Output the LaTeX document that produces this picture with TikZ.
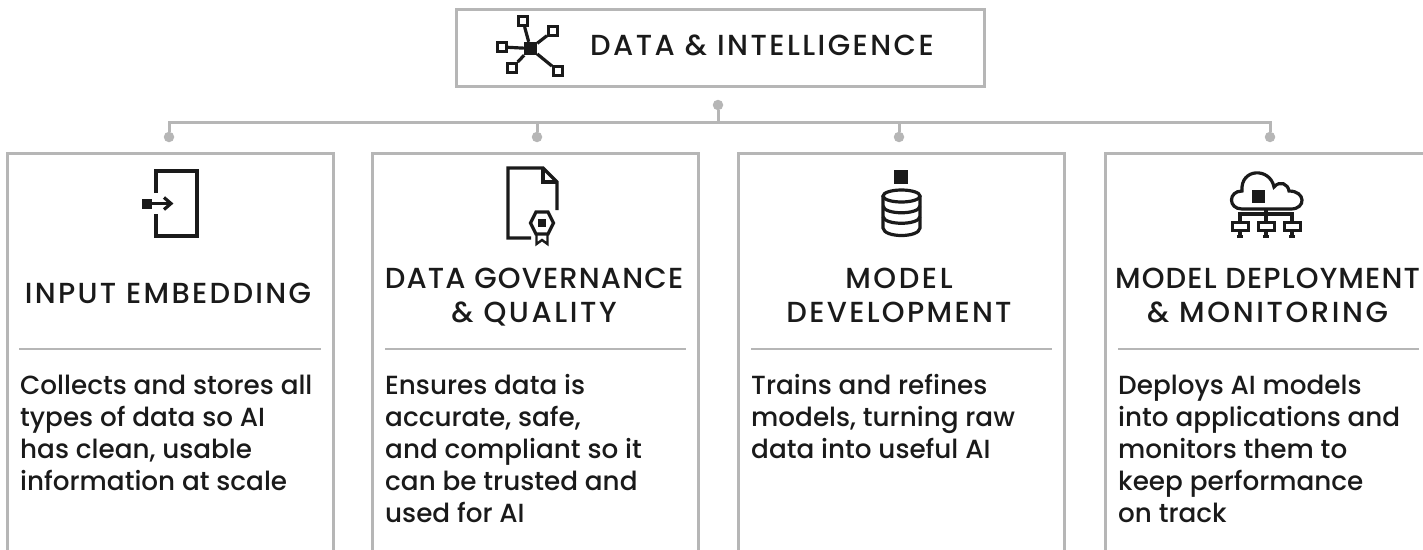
\documentclass[tikz,border=0pt]{standalone}
\usepackage{fontspec}
\setmainfont{Poppins Medium}
\newfontfamily\headfont[LetterSpace=9]{Poppins Medium}
\newfontfamily\headmidfont[LetterSpace=8]{Poppins Medium}
\newfontfamily\headtightfont[LetterSpace=4]{Poppins Medium}
\newfontfamily\titlefont[LetterSpace=8.5]{Poppins Medium}
\definecolor{framegray}{HTML}{B6B6B6}
\definecolor{inkblack}{HTML}{1A1A1A}
\tikzset{
	framebox/.style={draw=framegray, line width=3pt},
	busline/.style={draw=framegray, line width=3pt},
	busdot/.style={circle, fill=framegray, inner sep=0pt, minimum size=10.5pt},
	rule/.style={draw=framegray, line width=2.2pt},
	icon/.style={draw=inkblack, line width=3.2pt},
	iconfill/.style={rectangle, fill=inkblack, inner sep=0pt},
	leafbox/.style={rectangle, draw=inkblack, line width=3pt, fill=white, inner sep=0pt, minimum size=9pt},
	headtext/.style={text=inkblack, align=center, font=\fontsize{29}{34}\selectfont\headfont},
	bodytext/.style={text=inkblack, align=left, anchor=north west, inner sep=0pt, font=\fontsize{26.25}{32}\selectfont},
}
\begin{document}
\begin{tikzpicture}[x=1pt, y=-1pt]
	\useasboundingbox (0, 0) rectangle (1423, 549);
	\clip (0, 0) rectangle (1423, 549);

	%%%%% title box %%%%%
	\node[framebox, minimum width=528pt, minimum height=77pt, inner sep=0pt] (titlebox) at (720, 47.5) {};
	\node[anchor=west, inner sep=0pt, text=inkblack, font=\fontsize{29}{32}\selectfont\titlefont] (titletext) at (590, 45) {DATA \& INTELLIGENCE};

	\node[iconfill, minimum size=13pt] (hub) at (530.5, 48.5) {};
	\node[leafbox] (leaftop) at (523, 21) {};
	\node[leafbox] (leafright) at (553, 31) {};
	\node[leafbox] (leafleft) at (502, 47) {};
	\node[leafbox] (leaflow) at (512, 68) {};
	\node[leafbox] (leafend) at (558, 71) {};
	\draw[icon] (hub) -- (leaftop);
	\draw[icon] (hub) -- (leafright);
	\draw[icon] (hub) -- (leafleft);
	\draw[icon] (hub) -- (leaflow);
	\draw[icon] (hub) -- (leafend);

	%%%%% connectors %%%%%
	\coordinate (bus) at (718, 122);
	\node[busdot] (hubdot) at (718, 105) {};
	\node[busdot] (inputdot) at (169, 137) {};
	\node[busdot] (governdot) at (537, 137) {};
	\node[busdot] (modeldot) at (899, 137) {};
	\node[busdot] (deploydot) at (1270, 137) {};
	\draw[busline] (hubdot) -- (bus);
	\draw[busline] (inputdot) |- (bus);
	\draw[busline] (governdot) |- (bus);
	\draw[busline] (modeldot) |- (bus);
	\draw[busline] (deploydot) |- (bus);

	%%%%% cards %%%%%
	\draw[framebox] (7.5, 552) -- (7.5, 153) -- (333, 153) -- (333, 552);
	\draw[framebox] (372.5, 552) -- (372.5, 153) -- (698, 153) -- (698, 552);
	\draw[framebox] (738.5, 552) -- (738.5, 153) -- (1064, 153) -- (1064, 552);
	\draw[framebox] (1105.5, 552) -- (1105.5, 153) -- (1426, 153);

	%%%%% input embedding %%%%%
	\draw[icon] (156, 193) -- (156, 171) -- (197, 171) -- (197, 236) -- (156, 236) -- (156, 214);
	\node[iconfill, minimum size=10pt] (inputsq) at (147, 203.5) {};
	\draw[icon] (inputsq) -- (171, 203.5);
	\draw[icon] (164, 197.5) -- (171, 203.5) -- (164, 209.5);
	\node[headtext] (inputhead) at (168, 293) {\headmidfont INPUT EMBEDDING};
	\draw[rule] (19, 349) -- (321, 349);
	\node[bodytext] (inputbody) at (20, 375) {Collects and stores all\\types of data so AI\\has clean, usable\\information at scale};

	%%%%% governance %%%%%
	\draw[icon] (531, 238) -- (508, 238) -- (508, 168) -- (543, 168) -- (557, 182) -- (557, 210);
	\draw[icon] (543, 168) -- (543, 182) -- (557, 182);
	\draw[icon] (536, 212) -- (548, 212) -- (553.5, 223) -- (548, 234) -- (536, 234) -- (530.5, 223) -- cycle;
	\node[iconfill, minimum size=8.5pt] (governsq) at (542, 223) {};
	\draw[icon, line width=2.4pt] (536.5, 234) -- (536.5, 244) -- (542, 240) -- (547.5, 244) -- (547.5, 234);
	\node[headtext] (governhead) at (534, 297) {{\headtightfont DATA GOVERNANCE}\\\& QUALITY};
	\draw[rule] (385, 349) -- (686, 349);
	\node[bodytext] (governbody) at (385, 374.5) {Ensures data is\\accurate, safe,\\and compliant so it\\can be trusted and\\used for AI};

	%%%%% model development %%%%%
	\node[iconfill, minimum size=14pt] (modelsq) at (901, 177) {};
	\draw[icon] (901.5, 196) ellipse (18.5 and 6);
	\draw[icon] (883, 196) -- (883, 228) .. controls (884, 238) and (919, 238) .. (920, 228) -- (920, 196);
	\draw[icon] (883, 206) .. controls (884, 215) and (919, 215) .. (920, 206);
	\draw[icon] (883, 216.5) .. controls (884, 225.5) and (919, 225.5) .. (920, 216.5);
	\node[headtext] (modelhead) at (899, 295.5) {MODEL\\{\headmidfont DEVELOPMENT}};
	\draw[rule] (751, 349) -- (1052, 349);
	\node[bodytext] (modelbody) at (751, 374.5) {Trains and refines\\models, turning raw\\data into useful AI};

	%%%%% deployment %%%%%
	\draw[icon] (1242, 209) .. controls (1228, 209) and (1228, 191) .. (1242, 191)
		.. controls (1240, 168) and (1270, 167) .. (1274, 187)
		.. controls (1280, 180) and (1288, 184) .. (1289, 191)
		.. controls (1306, 191) and (1306, 209) .. (1291, 209) -- cycle;
	\node[iconfill, minimum size=13pt] (deploysq) at (1258.5, 196.5) {};
	\node[leafbox, minimum width=16pt, minimum height=8pt] (monleft) at (1240, 226) {};
	\node[leafbox, minimum width=16pt, minimum height=8pt] (monmid) at (1266, 226) {};
	\node[leafbox, minimum width=16pt, minimum height=8pt] (monright) at (1292, 226) {};
	\draw[icon] (1266, 209) -- (monmid);
	\draw[icon] (monleft) |- (monmid |- 0, 214) -| (monright);
	\draw[icon] (monleft.south) -- ++(0, 5) ++(-3, 0) -- ++(6, 0);
	\draw[icon] (monmid.south) -- ++(0, 5) ++(-3, 0) -- ++(6, 0);
	\draw[icon] (monright.south) -- ++(0, 5) ++(-3, 0) -- ++(6, 0);
	\node[headtext] (deployhead) at (1267.5, 295.5) {{\headtightfont MODEL DEPLOYMENT}\\\& MONITORING};
	\draw[rule] (1118, 349) -- (1419, 349);
	\node[bodytext] (deploybody) at (1118, 374.5) {Deploys AI models\\into applications and\\monitors them to\\keep performance\\on track};
\end{tikzpicture}
\end{document}
